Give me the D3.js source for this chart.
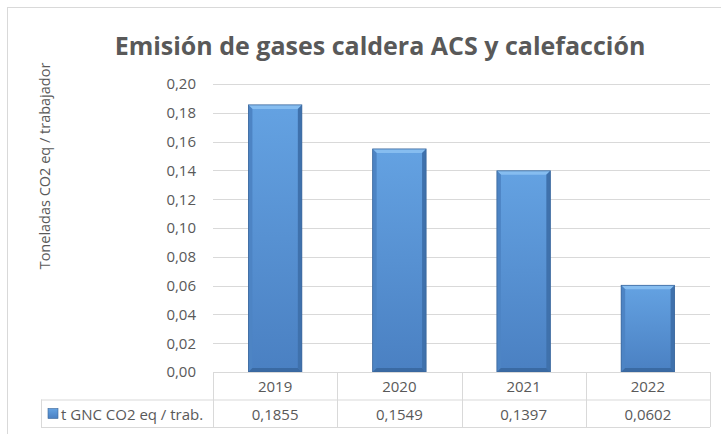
<!DOCTYPE html>
<html lang="es">
<head>
<meta charset="UTF-8">
<title>Emisión de gases caldera ACS y calefacción</title>
<script src="https://d3js.org/d3.v7.min.js"></script>
<style>
  body { margin: 0; background: #fff; }
  svg text { font-family: "Open Sans", sans-serif; fill: #595959; }
</style>
</head>
<body>
<script>
const years = ["2019", "2020", "2021", "2022"];
const values = [0.1855, 0.1549, 0.1397, 0.0602];
const valueLabels = ["0,1855", "0,1549", "0,1397", "0,0602"];
const yTicks = [0, 0.02, 0.04, 0.06, 0.08, 0.10, 0.12, 0.14, 0.16, 0.18, 0.20];
const seriesName = "t GNC CO2 eq / trab.";

const w = 721, h = 434;
const plotLeft = 213, plotRight = 710, plotTop = 84, plotBottom = 372;
const rowH = 27.5;

const svg = d3.select("body").append("svg")
  .attr("width", w).attr("height", h);

// chart frame
svg.append("rect")
  .attr("x", 7.5).attr("y", 7.5)
  .attr("width", 730).attr("height", 440)
  .attr("fill", "none").attr("stroke", "#d9d9d9");

svg.append("text")
  .attr("x", 380).attr("y", 55)
  .attr("text-anchor", "middle")
  .style("font-size", "25px").style("font-weight", "bold")
  .text("Emisión de gases caldera ACS y calefacción");

const x = d3.scaleBand().domain(years).range([plotLeft, plotRight]).padding(0);
const y = d3.scaleLinear().domain([0, 0.20]).range([plotBottom, plotTop]);

// gridlines
svg.append("g").selectAll("line")
  .data(yTicks.slice(1))
  .enter().append("line")
  .attr("x1", plotLeft).attr("x2", plotRight)
  .attr("y1", d => Math.round(y(d)) + 0.5).attr("y2", d => Math.round(y(d)) + 0.5)
  .attr("stroke", "#d9d9d9");

// y axis labels
const yAxis = d3.axisLeft(y).tickValues(yTicks)
  .tickFormat(d => d3.format(".2f")(d).replace(".", ","))
  .tickSize(0).tickPadding(17);
const gy = svg.append("g").attr("transform", "translate(" + plotLeft + ",0)").call(yAxis);
gy.select(".domain").remove();
gy.selectAll("text").style("font-size", "15px").style("fill", "#595959")
  .style("font-family", "Open Sans, sans-serif");

svg.append("text")
  .attr("transform", "translate(50,166) rotate(-90)")
  .attr("text-anchor", "middle")
  .style("font-size", "14.5px")
  .text("Toneladas CO2 eq / trabajador");

// bar gradient
const defs = svg.append("defs");
const grad = defs.append("linearGradient").attr("id", "barGrad")
  .attr("x1", "0").attr("x2", "0").attr("y1", "0").attr("y2", "1");
grad.append("stop").attr("offset", "0").attr("stop-color", "#64a2e2");
grad.append("stop").attr("offset", "1").attr("stop-color", "#4a80c2");

const barW = x.bandwidth() * 0.43;
const bx = i => x(years[i]) + (x.bandwidth() - barW) / 2;
const bars = svg.append("g").selectAll("g")
  .data(values).enter().append("g");

bars.append("rect")
  .attr("x", (d, i) => bx(i))
  .attr("y", d => y(d))
  .attr("width", barW)
  .attr("height", d => y(0) - y(d))
  .attr("fill", "url(#barGrad)");

const bev = 4;
// top bevel
bars.append("polygon")
  .attr("points", (d, i) => {
    const x0 = bx(i), x1 = x0 + barW, y0 = y(d);
    return [[x0, y0], [x1, y0], [x1 - bev, y0 + bev], [x0 + bev, y0 + bev]].join(" ");
  })
  .attr("fill", "#86bdf0");
// side bevels
bars.append("polygon")
  .attr("points", (d, i) => {
    const x0 = bx(i), y0 = y(d), y1 = y(0);
    return [[x0, y0], [x0 + bev, y0 + bev], [x0 + bev, y1 - bev], [x0, y1]].join(" ");
  })
  .attr("fill", "#4d84c4");
bars.append("polygon")
  .attr("points", (d, i) => {
    const x1 = bx(i) + barW, y0 = y(d), y1 = y(0);
    return [[x1, y0], [x1 - bev, y0 + bev], [x1 - bev, y1 - bev], [x1, y1]].join(" ");
  })
  .attr("fill", "#3f71ac");
// bottom bevel
bars.append("polygon")
  .attr("points", (d, i) => {
    const x0 = bx(i), x1 = x0 + barW, y1 = y(0);
    return [[x0, y1], [x1, y1], [x1 - bev, y1 - bev], [x0 + bev, y1 - bev]].join(" ");
  })
  .attr("fill", "#3a6aa3");
bars.append("rect")
  .attr("x", (d, i) => bx(i))
  .attr("y", d => y(d))
  .attr("width", barW)
  .attr("height", d => y(0) - y(d))
  .attr("fill", "none")
  .attr("stroke", "#3b679c").attr("stroke-width", 0.8);

// data table
const tbl = svg.append("g").attr("stroke", "#d9d9d9").attr("fill", "none");
tbl.append("line").attr("x1", plotLeft).attr("x2", plotRight).attr("y1", plotBottom + 0.5).attr("y2", plotBottom + 0.5);
tbl.append("line").attr("x1", 41).attr("x2", plotRight).attr("y1", plotBottom + rowH + 0.5).attr("y2", plotBottom + rowH + 0.5);
tbl.append("line").attr("x1", 41).attr("x2", plotRight).attr("y1", plotBottom + 2 * rowH + 0.5).attr("y2", plotBottom + 2 * rowH + 0.5);
tbl.append("line").attr("x1", 41.5).attr("x2", 41.5).attr("y1", plotBottom + rowH).attr("y2", plotBottom + 2 * rowH);
years.concat(["end"]).forEach((yr, i) => {
  const xx = Math.round(plotLeft + i * x.bandwidth()) + 0.5;
  tbl.append("line").attr("x1", xx).attr("x2", xx).attr("y1", plotBottom).attr("y2", plotBottom + 2 * rowH);
});

svg.append("g").selectAll("text").data(years).enter().append("text")
  .attr("x", d => x(d) + x.bandwidth() / 2)
  .attr("y", plotBottom + 20)
  .attr("text-anchor", "middle")
  .style("font-size", "15px")
  .text(d => d);

svg.append("g").selectAll("text").data(valueLabels).enter().append("text")
  .attr("x", (d, i) => x(years[i]) + x.bandwidth() / 2)
  .attr("y", plotBottom + rowH + 20)
  .attr("text-anchor", "middle")
  .style("font-size", "15px")
  .text(d => d);

// legend key
svg.append("rect")
  .attr("x", 48).attr("y", plotBottom + rowH + 9)
  .attr("width", 10).attr("height", 10)
  .attr("fill", "url(#barGrad)").attr("stroke", "#3a6596").attr("stroke-width", 0.6);
svg.append("text")
  .attr("x", 61).attr("y", plotBottom + rowH + 20)
  .style("font-size", "15px")
  .text(seriesName);
</script>
</body>
</html>
